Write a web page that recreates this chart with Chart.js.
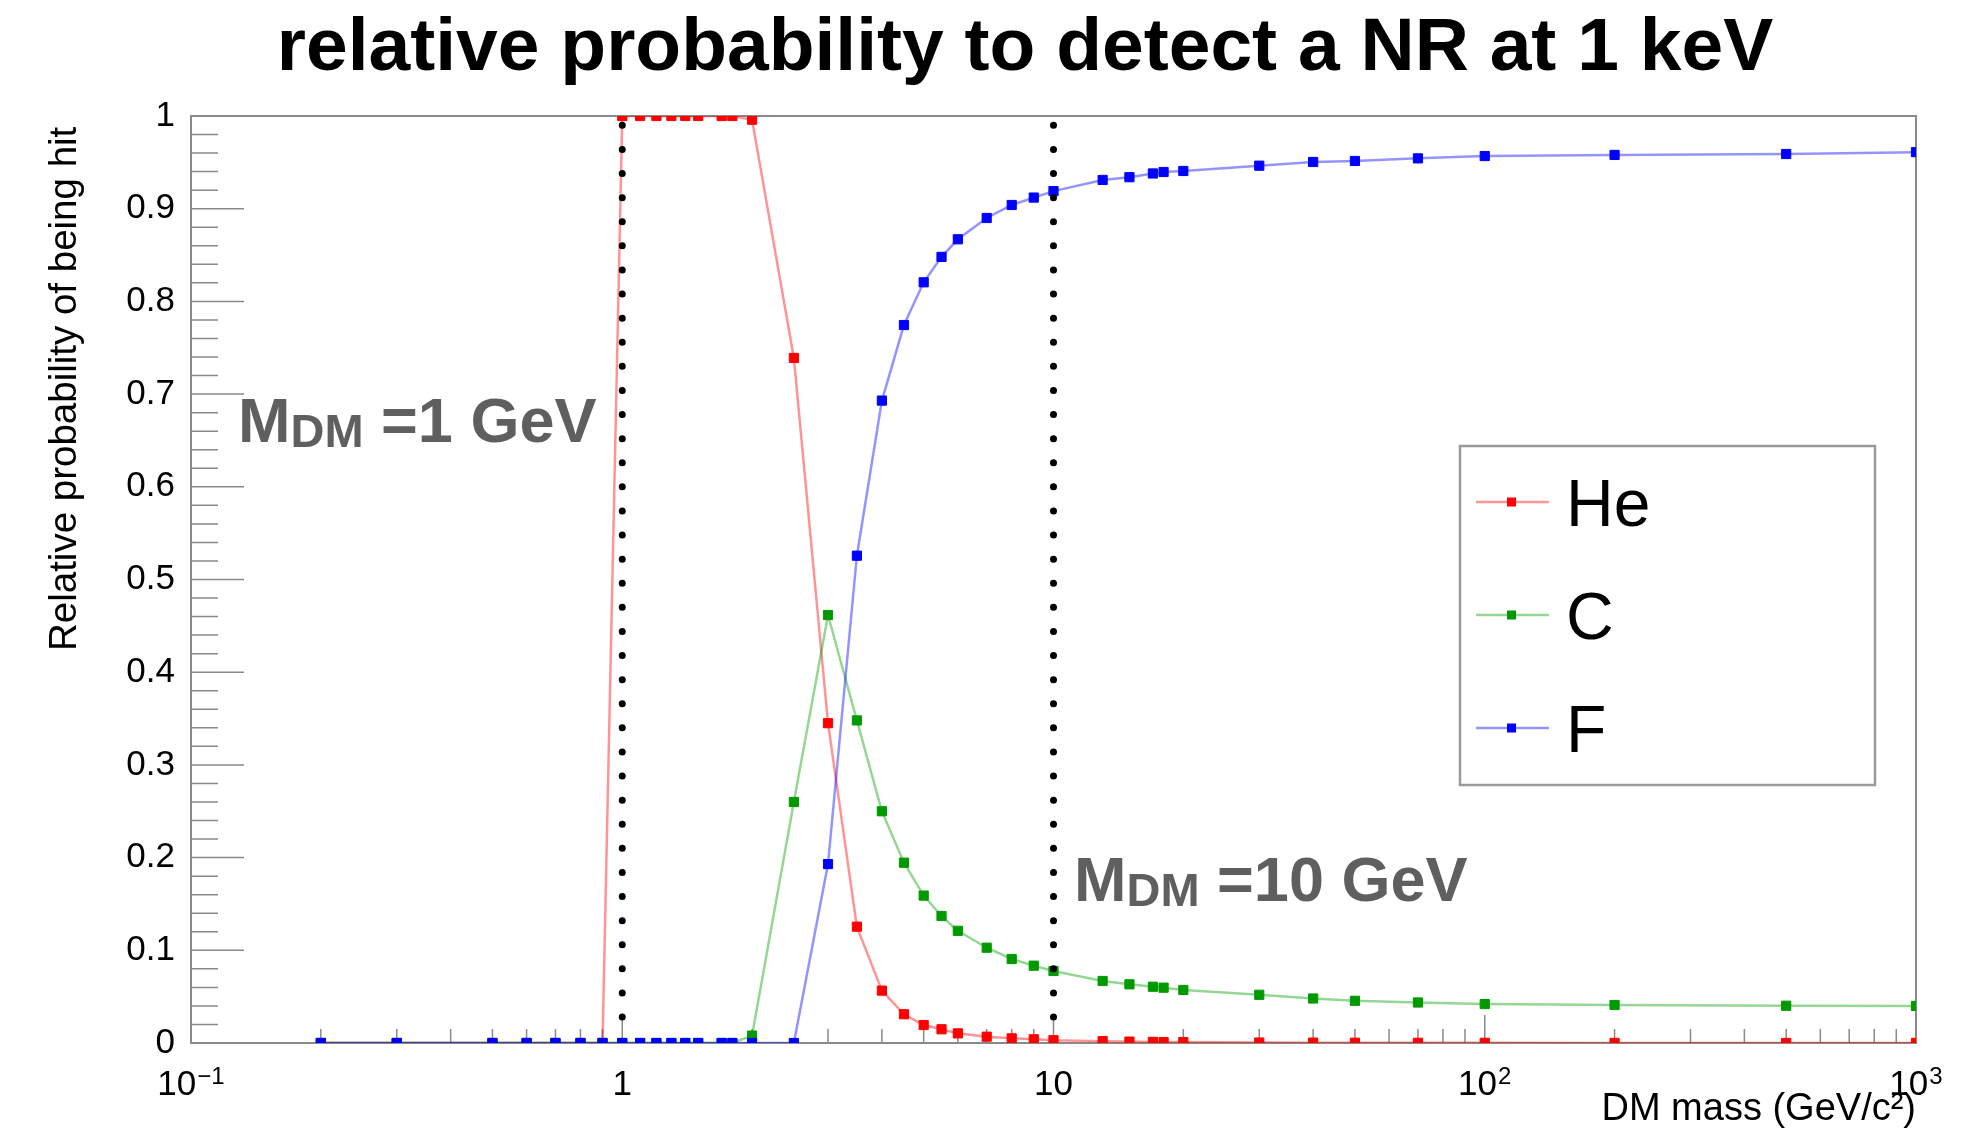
<!DOCTYPE html>
<html>
<head>
<meta charset="utf-8">
<title>relative probability to detect a NR at 1 keV</title>
<script src="https://cdn.jsdelivr.net/npm/chart.js@4.4.1/dist/chart.umd.min.js"></script>
<style>
    html, body { margin: 0; padding: 0; background: #ffffff; }
    #chart { display: block; }
</style>
</head>
<body>
<canvas id="chart" width="1988" height="1135"></canvas>
<script>
// DM mass points (GeV/c^2), shared by the three targets
const masses = [0.2, 0.3, 0.5, 0.6, 0.7, 0.8, 0.9, 1, 1.1, 1.2, 1.3, 1.4, 1.5, 1.7, 1.8, 2,
    2.5, 3, 3.5, 4, 4.5, 5, 5.5, 6, 7, 8, 9, 10, 13, 15, 17, 18, 20,
    30, 40, 50, 70, 100, 200, 500, 1000];

const helium = [0, 0, 0, 0, 0, 0, 0, 1, 1, 1, 1, 1, 1, 1, 1, 0.996,
    0.739, 0.345, 0.1255, 0.0565, 0.031, 0.0194, 0.0148, 0.0104, 0.0068, 0.005, 0.004, 0.003, 0.002, 0.0015, 0.0012, 0.001, 0.001,
    0.0005, 0.0004, 0.0003, 0.0002, 0.0002, 0.0001, 0.0001, 0.0001];

const carbon = [0, 0, 0, 0, 0, 0, 0, 0, 0, 0, 0, 0, 0, 0, 0, 0.008,
    0.26, 0.4617, 0.348, 0.25, 0.1945, 0.159, 0.137, 0.121, 0.1028, 0.0906, 0.0834, 0.0777, 0.0669, 0.0633, 0.0607, 0.0597, 0.0572,
    0.052, 0.048, 0.0455, 0.0437, 0.042, 0.041, 0.0402, 0.04];

const fluorine = [0, 0, 0, 0, 0, 0, 0, 0, 0, 0, 0, 0, 0, 0, 0, 0,
    0, 0.193, 0.5257, 0.693, 0.7745, 0.8206, 0.848, 0.867, 0.89, 0.904, 0.912, 0.919, 0.931, 0.934, 0.938, 0.9396, 0.9407,
    0.9464, 0.9504, 0.9515, 0.9543, 0.9568, 0.958, 0.959, 0.961];

const seriesNames = ['He', 'C', 'F'];

// the two marked masses and the vertical extent of their dotted lines
const markedMasses = [1, 10];
const markedLabels = ['=1 GeV', '=10 GeV'];
const dotSpan = [0.028, 0.99];

// x tick labels as base + exponent (ROOT style 10^n)
const xTickValues = [0.1, 1, 10, 100, 1000];
const xTickBase = ['10', '1', '10', '10', '10'];
const xTickExp = ['\u22121', '', '', '2', '3'];

const FONT = '"Liberation Sans", Arial, Helvetica, sans-serif';
const frameColor = '#8a8a8a';
const markerColors = ['#ff0000', '#009a00', '#0000ff'];
const lineColors = ['rgba(255,0,0,0.42)', 'rgba(0,160,0,0.42)', 'rgba(0,0,255,0.42)'];


function points(ys) {
    return masses.map((m, i) => ({ x: m, y: ys[i] }));
}


function seriesDataset(i, ys) {
    return {
        label: seriesNames[i],
        data: points(ys),
        borderColor: lineColors[i],
        borderWidth: 2.5,
        pointStyle: 'rect',
        pointRadius: 6.5,
        pointBorderWidth: 1,
        pointBackgroundColor: markerColors[i],
        pointBorderColor: markerColors[i],
        tension: 0,
        order: 3 - i
    };
}


function dottedDataset(m) {
    return {
        label: 'mark' + m,
        data: [{ x: m, y: dotSpan[0] }, { x: m, y: dotSpan[1] }],
        borderColor: '#000000',
        borderWidth: 7,
        borderDash: [0, 24.1],
        borderCapStyle: 'round',
        pointRadius: 0,
        order: 0
    };
}


// ROOT style frame with inward ticks
const rootFrame = {
    id: 'rootFrame',
    beforeDatasetsDraw(chart) {
        const ctx = chart.ctx;
        const { left, right, top, bottom } = chart.chartArea;
        const xs = chart.scales.x;
        const ys = chart.scales.y;
        ctx.save();
        ctx.strokeStyle = frameColor;
        ctx.lineWidth = 2;
        ctx.strokeRect(left, top, right - left, bottom - top);
        ctx.lineWidth = 1.5;
        ctx.beginPath();
        for (let i = 0; i <= 50; i++) {
            const py = ys.getPixelForValue(i / 50);
            const len = i % 5 === 0 ? 53 : 27;
            ctx.moveTo(left, py);
            ctx.lineTo(left + len, py);
        }
        for (let e = -1; e <= 3; e++) {
            for (let k = 1; k <= 9; k++) {
                const v = k * Math.pow(10, e);
                if (v > 1000) break;
                const px = xs.getPixelForValue(v);
                const len = k === 1 ? 28 : 14;
                ctx.moveTo(px, bottom);
                ctx.lineTo(px, bottom - len);
            }
        }
        ctx.stroke();

        // x labels with raised exponents
        ctx.fillStyle = '#000000';
        ctx.textBaseline = 'alphabetic';
        ctx.textAlign = 'left';
        xTickValues.forEach((v, i) => {
            const px = xs.getPixelForValue(v);
            ctx.font = '35px ' + FONT;
            const wb = ctx.measureText(xTickBase[i]).width;
            ctx.font = '24px ' + FONT;
            const we = xTickExp[i] ? ctx.measureText(xTickExp[i]).width + 1 : 0;
            const x0 = px - (wb + we) / 2;
            ctx.font = '35px ' + FONT;
            ctx.fillText(xTickBase[i], x0, bottom + 52);
            if (xTickExp[i]) {
                ctx.font = '24px ' + FONT;
                ctx.fillText(xTickExp[i], x0 + wb + 1, bottom + 41);
            }
        });
        ctx.restore();
    }
};


function drawMark(ctx, x, y, rest) {
    ctx.font = 'bold 63px ' + FONT;
    ctx.fillText('M', x, y);
    x += ctx.measureText('M').width;
    ctx.font = 'bold 47px ' + FONT;
    ctx.fillText('DM', x, y + 5);
    x += ctx.measureText('DM').width;
    ctx.font = 'bold 63px ' + FONT;
    ctx.fillText(' ' + rest, x, y);
}


const overlays = {
    id: 'overlays',
    afterDraw(chart) {
        const ctx = chart.ctx;
        ctx.save();

        // title
        ctx.fillStyle = '#000000';
        ctx.textAlign = 'center';
        ctx.textBaseline = 'alphabetic';
        ctx.font = 'bold 75px ' + FONT;
        ctx.fillText('relative probability to detect a NR at 1 keV', 1025, 70);

        // mass annotations
        ctx.textAlign = 'left';
        ctx.fillStyle = '#5f5f5f';
        drawMark(ctx, 238, 442, markedLabels[0]);
        drawMark(ctx, 1074, 901, markedLabels[1]);

        // legend box
        const bx = 1460, by = 446, bw = 415, bh = 339;
        ctx.fillStyle = '#ffffff';
        ctx.fillRect(bx, by, bw, bh);
        ctx.strokeStyle = '#9a9a9a';
        ctx.lineWidth = 2.5;
        ctx.strokeRect(bx, by, bw, bh);
        const rowY = [502, 615, 728];
        ctx.font = '66px ' + FONT;
        seriesNames.forEach((name, i) => {
            const yy = rowY[i];
            ctx.strokeStyle = lineColors[i];
            ctx.lineWidth = 2.5;
            ctx.beginPath();
            ctx.moveTo(1476, yy);
            ctx.lineTo(1549, yy);
            ctx.stroke();
            ctx.fillStyle = markerColors[i];
            ctx.fillRect(1507, yy - 4.5, 9, 9);
            ctx.fillStyle = '#000000';
            ctx.fillText(name, 1566, yy + 24);
        });
        ctx.restore();
    }
};


const config = {
    type: 'line',
    data: {
        datasets: [
            dottedDataset(markedMasses[0]),
            dottedDataset(markedMasses[1]),
            seriesDataset(0, helium),
            seriesDataset(1, carbon),
            seriesDataset(2, fluorine)
        ]
    },
    options: {
        responsive: false,
        animation: false,
        devicePixelRatio: 1,
        layout: { padding: { top: 116, right: 72, bottom: 0, left: 0 } },
        plugins: {
            legend: { display: false },
            tooltip: { enabled: false },
            title: { display: false }
        },
        scales: {
            x: {
                type: 'logarithmic',
                min: 0.1,
                max: 1000,
                grid: { display: false, drawTicks: false },
                border: { display: false },
                afterBuildTicks: (scale) => {
                    scale.ticks = xTickValues.map(v => ({ value: v }));
                },
                afterFit: (scale) => { scale.height = 92; },
                ticks: { display: false },
                title: {
                    display: true,
                    text: 'DM mass (GeV/c\u00B2)',
                    align: 'end',
                    color: '#000000',
                    font: { family: FONT, size: 38 },
                    padding: { top: 0, bottom: 3 }
                }
            },
            y: {
                type: 'linear',
                min: 0,
                max: 1,
                grid: { display: false, drawTicks: false },
                border: { display: false },
                afterFit: (scale) => { scale.width = 191; },
                ticks: {
                    stepSize: 0.1,
                    padding: 16,
                    color: '#000000',
                    font: { family: FONT, size: 35 },
                    callback: (value) => String(Number(value.toFixed(1)))
                },
                title: {
                    display: true,
                    text: 'Relative probability of being hit ',
                    align: 'end',
                    color: '#000000',
                    font: { family: FONT, size: 38.5 },
                    padding: { top: 42, bottom: 0 }
                }
            }
        }
    },
    plugins: [rootFrame, overlays]
};

new Chart(document.getElementById('chart'), config);
</script>
</body>
</html>
